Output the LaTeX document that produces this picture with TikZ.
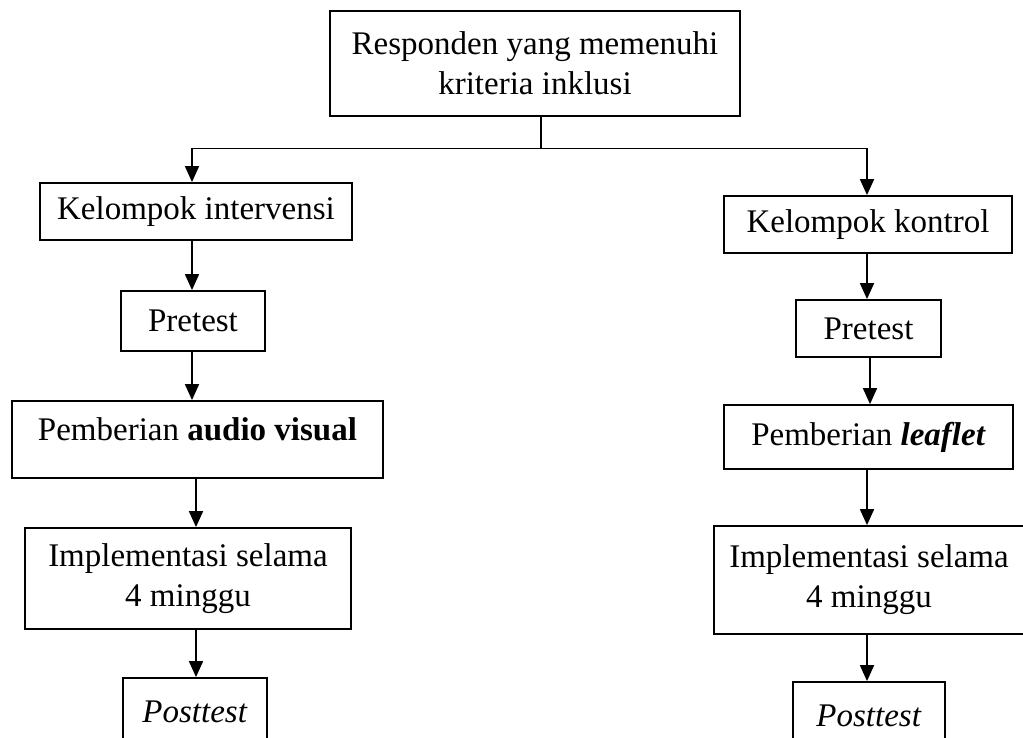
\documentclass[tikz,border=0pt]{standalone}
\usepackage{fontspec}
\setmainfont{Liberation Serif}
\usetikzlibrary{arrows.meta}
\begin{document}
\begin{tikzpicture}[x=1pt,y=-1pt,
  box/.style={draw, line width=1.8pt, rectangle, inner sep=0pt, align=center,
    font=\fontsize{33}{40}\selectfont},
  link/.style={line width=1.8pt},
  arr/.style={line width=1.8pt, -{Triangle[length=16pt,width=14pt]}}]
\useasboundingbox (0,0) rectangle (1023,738);
% boxes
\node[box, minimum width=410, minimum height=105] (top) at (535,63.5)
  {Responden yang memenuhi\\kriteria inklusi};
\node[box, minimum width=312, minimum height=57] (KI) at (196,211.5) {Kelompok intervensi};
\node[box, minimum width=288, minimum height=57] (KK) at (868,224.5) {Kelompok kontrol};
\node[box, minimum width=144, minimum height=60] (PL) at (193,321) {Pretest};
\node[box, minimum width=145, minimum height=57] (PR) at (868.5,328.5) {Pretest};
\node[box, minimum width=371, minimum height=77, text depth=20pt] (AV) at (197.5,439.5)
  {Pemberian \textbf{audio visual}};
\node[box, minimum width=289, minimum height=64] (LF) at (868.5,437) {Pemberian \textbf{\textit{leaflet}}};
\node[box, minimum width=326, minimum height=101] (IL) at (188,578.5)
  {Implementasi selama\\4 minggu};
\node[box, minimum width=310, minimum height=108] (IR) at (869,580)
  {Implementasi selama\\4 minggu};
\node[box, minimum width=144, minimum height=68] (POL) at (195,712) {\textit{Posttest}};
\node[box, minimum width=152, minimum height=68] (POR) at (869,716) {\textit{Posttest}};
% connector coordinates
\coordinate (tv) at (541,148.5);
\coordinate (sl) at (192,148.5);
\coordinate (sr) at (867,148.5);
\coordinate (cl) at (192,0);
\coordinate (cl2) at (196,0);
\coordinate (cr) at (867,0);
\coordinate (cr2) at (870,0);
% connectors
\draw[link] (top.south -| tv) -- (tv);
\draw[link] (sl) -- (sr);
\draw[arr] (sl) -- (KI.north -| sl);
\draw[arr] (sr) -- (KK.north -| sr);
\draw[arr] (KI.south -| cl) -- (PL.north -| cl);
\draw[arr] (PL.south -| cl) -- (AV.north -| cl);
\draw[arr] (AV.south -| cl2) -- (IL.north -| cl2);
\draw[arr] (IL.south -| cl2) -- (POL.north -| cl2);
\draw[arr] (KK.south -| cr) -- (PR.north -| cr);
\draw[arr] (PR.south -| cr2) -- (LF.north -| cr2);
\draw[arr] (LF.south -| cr) -- (IR.north -| cr);
\draw[arr] (IR.south -| cr) -- (POR.north -| cr);
\end{tikzpicture}
\end{document}
